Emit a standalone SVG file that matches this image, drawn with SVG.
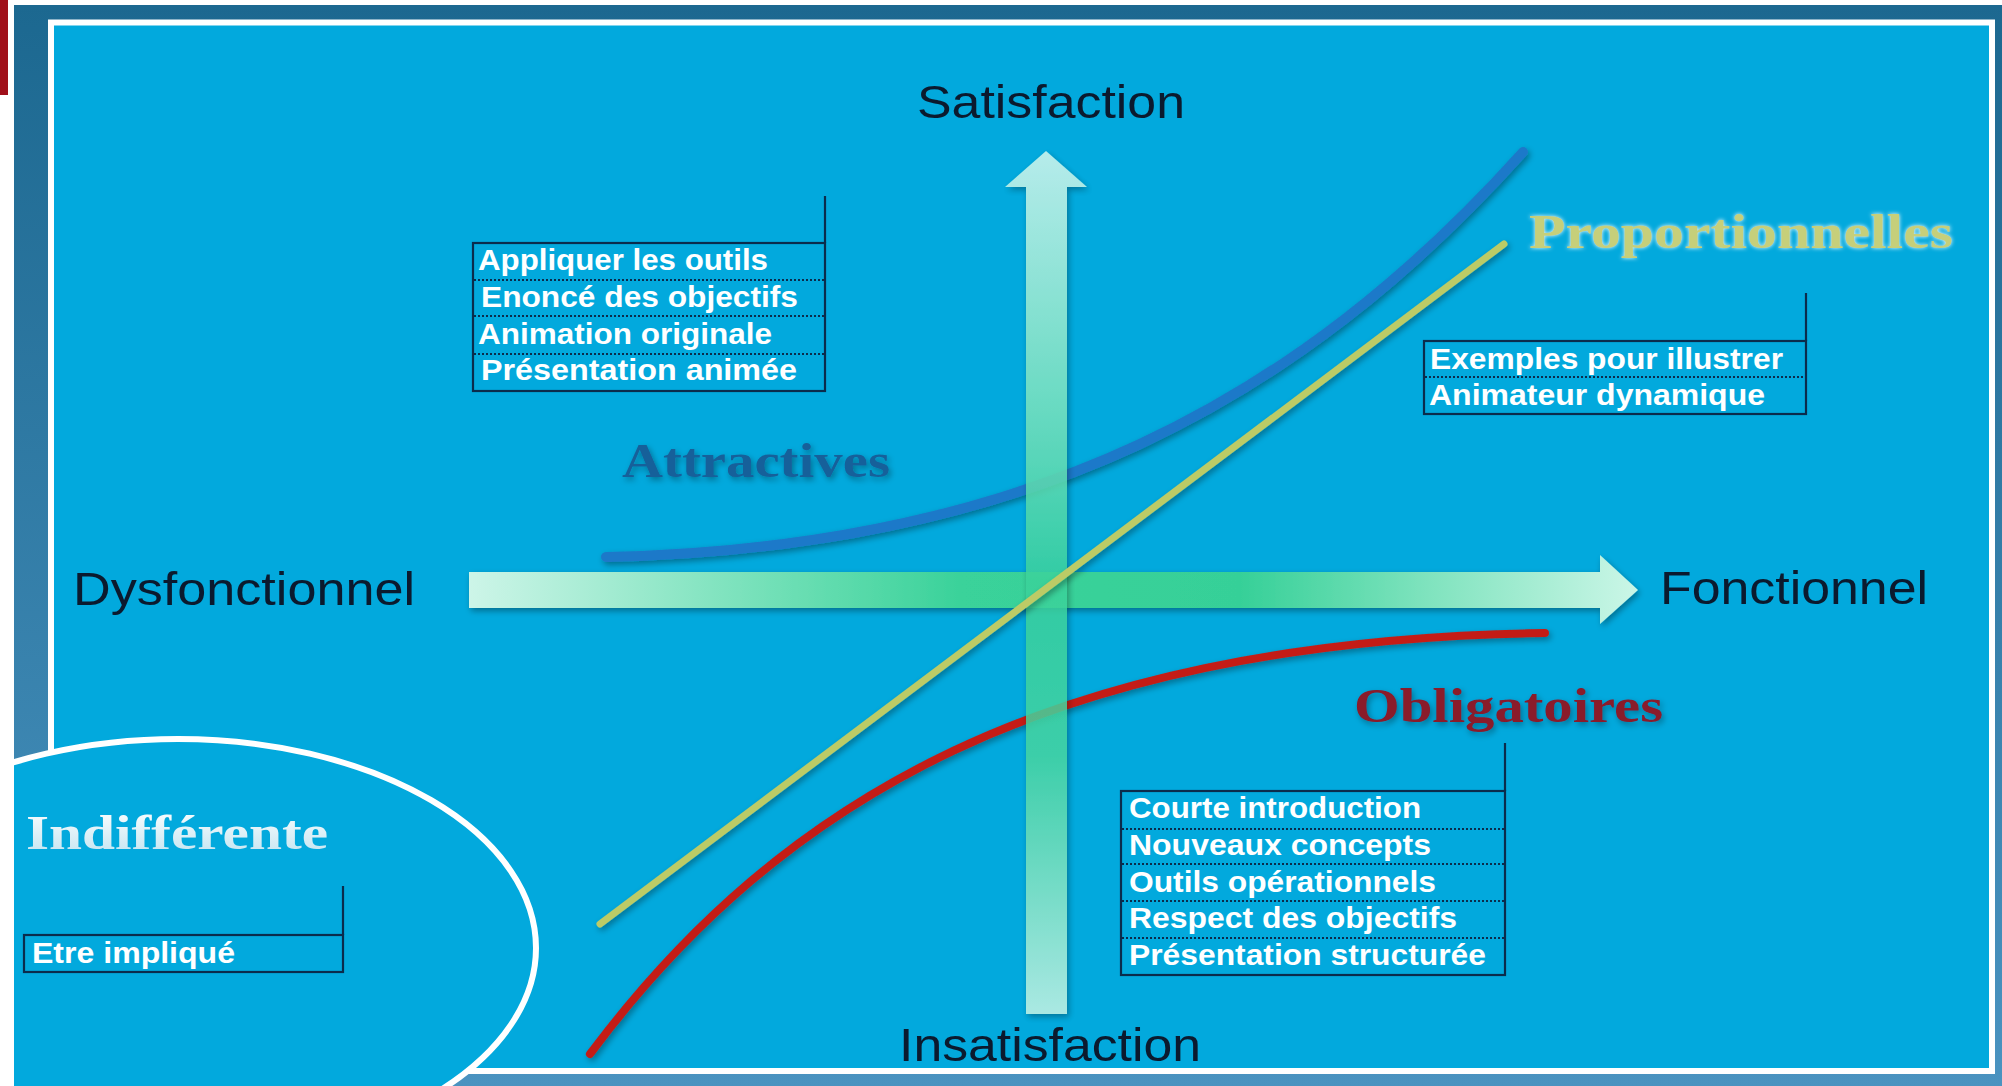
<svg xmlns="http://www.w3.org/2000/svg" width="2002" height="1086" viewBox="0 0 2002 1086">
  <defs>
    <linearGradient id="frameGrad" x1="0" y1="0" x2="0" y2="1">
      <stop offset="0" stop-color="#1c6890"/>
      <stop offset="1" stop-color="#4a93c0"/>
    </linearGradient>
    <linearGradient id="hArrow" x1="469" y1="0" x2="1638" y2="0" gradientUnits="userSpaceOnUse">
      <stop offset="0" stop-color="#cdf5e8"/>
      <stop offset="0.28" stop-color="#6adeb3"/>
      <stop offset="0.42" stop-color="#3ad29a"/>
      <stop offset="0.66" stop-color="#36d098"/>
      <stop offset="0.82" stop-color="#7fe3be"/>
      <stop offset="1" stop-color="#cbf6e7"/>
    </linearGradient>
    <linearGradient id="vArrow" x1="0" y1="151" x2="0" y2="1014" gradientUnits="userSpaceOnUse">
      <stop offset="0" stop-color="#d6f8ee"/>
      <stop offset="0.3" stop-color="#7ae3bd"/>
      <stop offset="0.5" stop-color="#3ad29a"/>
      <stop offset="0.7" stop-color="#46d5a0"/>
      <stop offset="1" stop-color="#c8f4e4"/>
    </linearGradient>
    <linearGradient id="indGrad" x1="0" y1="0" x2="0" y2="1">
      <stop offset="0" stop-color="#ffffff"/>
      <stop offset="1" stop-color="#bfe3f0"/>
    </linearGradient>
    <filter id="soft" x="-10%" y="-20%" width="120%" height="150%">
      <feGaussianBlur in="SourceAlpha" stdDeviation="3"/>
      <feOffset dx="2" dy="3" result="b"/>
      <feComponentTransfer><feFuncA type="linear" slope="0.35"/></feComponentTransfer>
      <feMerge><feMergeNode/><feMergeNode in="SourceGraphic"/></feMerge>
    </filter>
    <filter id="glow" x="-10%" y="-30%" width="120%" height="160%">
      <feFlood flood-color="#ffffff"/>
      <feComposite operator="in" in2="SourceAlpha"/>
      <feGaussianBlur stdDeviation="2"/>
      <feMerge><feMergeNode/><feMergeNode in="SourceGraphic"/></feMerge>
    </filter>
    <clipPath id="clipFrame"><rect x="14" y="5" width="1988" height="1081"/></clipPath>
    <style>
      .axis{font-family:"Liberation Sans",Arial,sans-serif;font-size:46px;fill:#0b1a2e}
      .head{font-family:"Liberation Serif","Times New Roman",serif;font-weight:bold;font-size:48px}
      .item{font-family:"Liberation Sans",Arial,sans-serif;font-weight:bold;font-size:30px;fill:#ffffff}
      .box{fill:none;stroke:#0b2c4c;stroke-width:2.2}
      .sep{stroke:#0b2c4c;stroke-width:2;stroke-dasharray:2 2}
      .curve{fill:none;stroke-linecap:round}
    </style>
  </defs>

  <!-- background -->
  <rect x="0" y="0" width="2002" height="1086" fill="#ffffff"/>
  <rect x="14" y="5" width="1988" height="1081" fill="url(#frameGrad)"/>
  <rect x="0" y="0" width="8" height="95" fill="#a0101a"/>
  <rect x="51" y="22.5" width="1941" height="1048.5" fill="#02a9dd" stroke="#ffffff" stroke-width="6"/>

  <!-- Indifferent zone -->
  <g id="zone-indifferente" clip-path="url(#clipFrame)">
    <ellipse cx="178" cy="948" rx="358" ry="209" fill="#02a9dd" stroke="#ffffff" stroke-width="6"/>
  </g>

  <!-- curves & axes -->
  <g id="connectors">
    <path id="curve-attractives" class="curve" d="M606,557 C1030,548 1300,400 1523,152" stroke="#1d79c9" stroke-width="10" filter="url(#soft)"/>
    <path id="curve-obligatoires" class="curve" d="M590,1054 C780,800 1050,640 1545,633" stroke="#c41e16" stroke-width="8" filter="url(#soft)"/>
    <polygon id="axis-x" points="469,572 1600,572 1600,555 1638,590 1600,624 1600,608 469,608" fill="url(#hArrow)" filter="url(#soft)"/>
    <polygon id="axis-y" points="1026,1014 1026,187 1005,187 1046,151 1087,187 1067,187 1067,1014" fill="url(#vArrow)" opacity="0.85" filter="url(#soft)"/>
    <path id="curve-proportionnelles" class="curve" d="M600,924 L1504,244" stroke="#bccb66" stroke-width="7" filter="url(#soft)"/>
  </g>

  <!-- axis labels -->
  <g id="label-satisfaction"><text class="axis" x="917" y="118" textLength="268" lengthAdjust="spacingAndGlyphs">Satisfaction</text></g>
  <g id="label-insatisfaction"><text class="axis" x="899" y="1061" textLength="302" lengthAdjust="spacingAndGlyphs">Insatisfaction</text></g>
  <g id="label-dysfonctionnel"><text class="axis" x="73" y="605" textLength="342" lengthAdjust="spacingAndGlyphs">Dysfonctionnel</text></g>
  <g id="label-fonctionnel"><text class="axis" x="1660" y="604" textLength="268" lengthAdjust="spacingAndGlyphs">Fonctionnel</text></g>

  <!-- headings -->
  <g id="head-attractives"><text class="head" x="622" y="477" textLength="268" lengthAdjust="spacingAndGlyphs" fill="#16609a" filter="url(#soft)">Attractives</text></g>
  <g id="head-proportionnelles"><text class="head" x="1529" y="248" textLength="424" lengthAdjust="spacingAndGlyphs" fill="#c6cf7a" filter="url(#glow)">Proportionnelles</text></g>
  <g id="head-obligatoires"><text class="head" x="1354" y="722" textLength="309" lengthAdjust="spacingAndGlyphs" fill="#8a1a2c" filter="url(#soft)">Obligatoires</text></g>
  <g id="head-indifferente"><text class="head" x="26" y="849" textLength="302" lengthAdjust="spacingAndGlyphs" fill="url(#indGrad)">Indifférente</text></g>

  <!-- box attractives -->
  <g id="box-attractives">
    <line class="box" x1="825" y1="196" x2="825" y2="243"/>
    <rect class="box" x="473" y="243" width="352" height="148"/>
    <line class="sep" x1="474" y1="280" x2="824" y2="280"/>
    <line class="sep" x1="474" y1="316" x2="824" y2="316"/>
    <line class="sep" x1="474" y1="354" x2="824" y2="354"/>
    <text class="item" x="478" y="270" textLength="290" lengthAdjust="spacingAndGlyphs">Appliquer les outils</text>
    <text class="item" x="481" y="307" textLength="317" lengthAdjust="spacingAndGlyphs">Enoncé des objectifs</text>
    <text class="item" x="478" y="344" textLength="294" lengthAdjust="spacingAndGlyphs">Animation originale</text>
    <text class="item" x="481" y="380" textLength="316" lengthAdjust="spacingAndGlyphs">Présentation animée</text>
  </g>

  <!-- box proportionnelles -->
  <g id="box-proportionnelles">
    <line class="box" x1="1806" y1="293" x2="1806" y2="341"/>
    <rect class="box" x="1424" y="341" width="382" height="73"/>
    <line class="sep" x1="1425" y1="377" x2="1805" y2="377"/>
    <text class="item" x="1430" y="369" textLength="353" lengthAdjust="spacingAndGlyphs">Exemples pour illustrer</text>
    <text class="item" x="1429" y="405" textLength="336" lengthAdjust="spacingAndGlyphs">Animateur dynamique</text>
  </g>

  <!-- box obligatoires -->
  <g id="box-obligatoires">
    <line class="box" x1="1505" y1="743" x2="1505" y2="791"/>
    <rect class="box" x="1121" y="791" width="384" height="184"/>
    <line class="sep" x1="1122" y1="829" x2="1504" y2="829"/>
    <line class="sep" x1="1122" y1="864" x2="1504" y2="864"/>
    <line class="sep" x1="1122" y1="901" x2="1504" y2="901"/>
    <line class="sep" x1="1122" y1="938" x2="1504" y2="938"/>
    <text class="item" x="1129" y="818" textLength="292" lengthAdjust="spacingAndGlyphs">Courte introduction</text>
    <text class="item" x="1129" y="855" textLength="302" lengthAdjust="spacingAndGlyphs">Nouveaux concepts</text>
    <text class="item" x="1129" y="892" textLength="307" lengthAdjust="spacingAndGlyphs">Outils opérationnels</text>
    <text class="item" x="1129" y="928" textLength="328" lengthAdjust="spacingAndGlyphs">Respect des objectifs</text>
    <text class="item" x="1129" y="965" textLength="357" lengthAdjust="spacingAndGlyphs">Présentation structurée</text>
  </g>

  <!-- box indifferente -->
  <g id="box-indifferente">
    <line class="box" x1="343" y1="886" x2="343" y2="935"/>
    <rect class="box" x="24" y="935" width="319" height="37"/>
    <text class="item" x="32" y="963" textLength="203" lengthAdjust="spacingAndGlyphs">Etre impliqué</text>
  </g>
</svg>
